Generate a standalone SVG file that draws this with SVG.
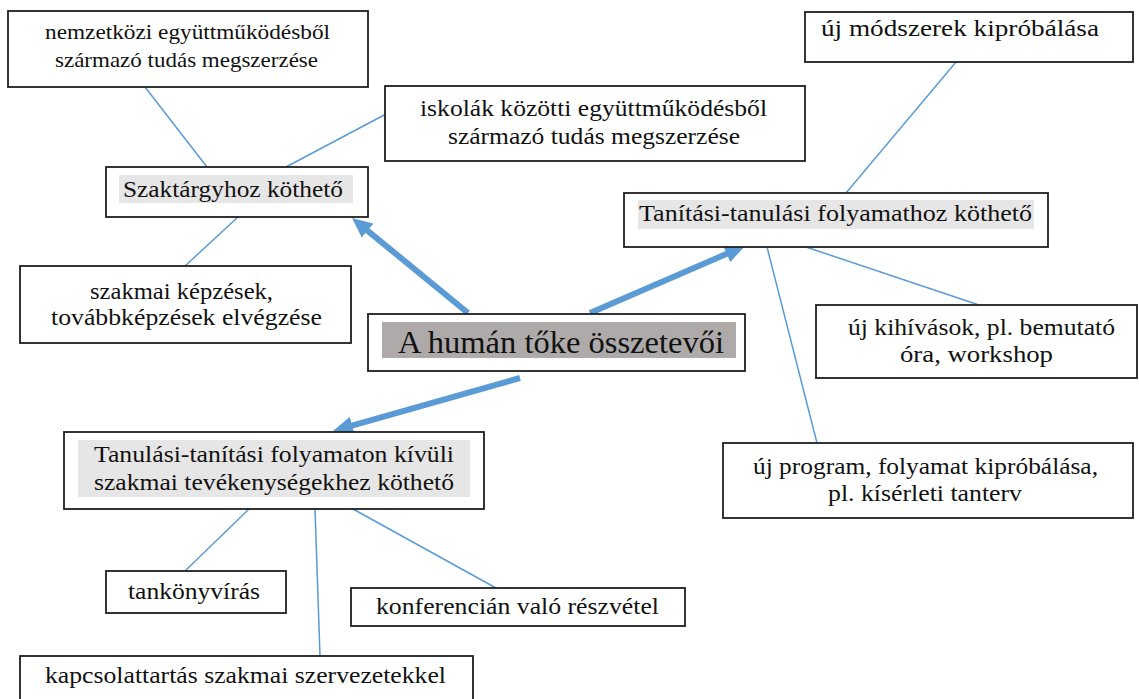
<svg xmlns="http://www.w3.org/2000/svg" width="1139" height="699" viewBox="0 0 1139 699" font-family="Liberation Serif, Times New Roman, serif">
<style>
.box{fill:#ffffff;stroke:#1f1f1f;stroke-width:1.8}
.hl{fill:#E7E6E6}
.hlt{fill:#AEAAAA}
.t{font-family:'Liberation Serif',serif;font-size:23px;fill:#111}
.conn{stroke:#5B9BD5;stroke-width:1.5;fill:none}
.arr{stroke:#5B9BD5;stroke-width:6;fill:none;marker-end:url(#ah)}
</style>
<defs>
<marker id="ah" markerUnits="userSpaceOnUse" markerWidth="20" markerHeight="18" refX="4" refY="9" orient="auto">
<path d="M0,0 L20,9 L0,18 z" fill="#5B9BD5"/>
</marker>
</defs>
<rect width="1139" height="699" fill="#ffffff"/>
<g id="connectors">
<line class="conn" x1="145" y1="87" x2="207" y2="167"/>
<line class="conn" x1="386" y1="114" x2="286" y2="167"/>
<line class="conn" x1="238" y1="217" x2="185" y2="266"/>
<line class="conn" x1="956" y1="62" x2="846" y2="193"/>
<line class="conn" x1="767" y1="247" x2="817" y2="443"/>
<line class="conn" x1="806" y1="247" x2="979" y2="305"/>
<line class="conn" x1="249" y1="509" x2="185" y2="571"/>
<line class="conn" x1="315" y1="509" x2="320" y2="656"/>
<line class="conn" x1="353" y1="509" x2="496" y2="588"/>
<line class="arr" x1="468" y1="313" x2="364.4" y2="228.1"/>
<line class="arr" x1="590" y1="313" x2="730.3" y2="252.3"/>
<line class="arr" x1="520" y1="378" x2="348.4" y2="426.6"/>
</g>
<g id="n-nemzetkozi">
<rect class="box" x="8" y="11" width="360" height="76"/>
<text class="t" font-size="21" style="font-size:21px" x="45" y="39" textLength="285" lengthAdjust="spacingAndGlyphs">nemzetközi együttműködésből</text>
<text class="t" style="font-size:21px" x="55" y="67" textLength="263" lengthAdjust="spacingAndGlyphs">származó tudás megszerzése</text>
</g>
<g id="n-szaktargy">
<rect class="box" x="106" y="167" width="262" height="50"/>
<rect class="hl" x="119" y="175" width="234" height="28"/>
<text class="t" x="123" y="197" textLength="220" lengthAdjust="spacingAndGlyphs">Szaktárgyhoz köthető</text>
</g>
<g id="n-iskolak">
<rect class="box" x="385" y="86" width="420" height="75"/>
<text class="t" x="420" y="116" textLength="347" lengthAdjust="spacingAndGlyphs">iskolák közötti együttműködésből</text>
<text class="t" x="448" y="144" textLength="292" lengthAdjust="spacingAndGlyphs">származó tudás megszerzése</text>
</g>
<g id="n-modszerek">
<rect class="box" x="805" y="12" width="328" height="50"/>
<text class="t" style="font-size:24px" x="821" y="36" textLength="278" lengthAdjust="spacingAndGlyphs">új módszerek kipróbálása</text>
</g>
<g id="n-tanitasi">
<rect class="box" x="624" y="193" width="424" height="54"/>
<rect class="hl" x="638" y="200" width="396" height="29"/>
<text class="t" x="639" y="221" textLength="393" lengthAdjust="spacingAndGlyphs">Tanítási-tanulási folyamathoz köthető</text>
</g>
<g id="n-szakmai">
<rect class="box" x="20" y="266" width="331" height="77"/>
<text class="t" x="90" y="299" textLength="183" lengthAdjust="spacingAndGlyphs">szakmai képzések,</text>
<text class="t" x="51" y="325" textLength="271" lengthAdjust="spacingAndGlyphs">továbbképzések elvégzése</text>
</g>
<g id="n-title">
<rect class="box" x="368" y="314" width="377" height="57"/>
<rect class="hlt" x="382" y="322" width="354" height="36"/>
<text class="t" style="font-size:32px" x="398" y="353" textLength="326" lengthAdjust="spacingAndGlyphs">A humán tőke összetevői</text>
</g>
<g id="n-kihivasok">
<rect class="box" x="816" y="305" width="321" height="73"/>
<text class="t" x="848" y="335" textLength="267" lengthAdjust="spacingAndGlyphs">új kihívások, pl. bemutató</text>
<text class="t" x="900" y="362" textLength="153" lengthAdjust="spacingAndGlyphs">óra, workshop</text>
</g>
<g id="n-program">
<rect class="box" x="723" y="443" width="410" height="75"/>
<text class="t" x="753" y="474" textLength="345" lengthAdjust="spacingAndGlyphs">új program, folyamat kipróbálása,</text>
<text class="t" x="828" y="501" textLength="194" lengthAdjust="spacingAndGlyphs">pl. kísérleti tanterv</text>
</g>
<g id="n-kivuli">
<rect class="box" x="64" y="432" width="420" height="77"/>
<rect class="hl" x="78" y="440" width="392" height="57"/>
<text class="t" x="94" y="462" textLength="360" lengthAdjust="spacingAndGlyphs">Tanulási-tanítási folyamaton kívüli</text>
<text class="t" x="94" y="490" textLength="360" lengthAdjust="spacingAndGlyphs">szakmai tevékenységekhez köthető</text>
</g>
<g id="n-tankonyv">
<rect class="box" x="106" y="571" width="180" height="42"/>
<text class="t" x="128" y="599" textLength="132" lengthAdjust="spacingAndGlyphs">tankönyvírás</text>
</g>
<g id="n-konferencia">
<rect class="box" x="351" y="588" width="334" height="38"/>
<text class="t" x="376" y="614" textLength="283" lengthAdjust="spacingAndGlyphs">konferencián való részvétel</text>
</g>
<g id="n-kapcsolat">
<rect class="box" x="20" y="656" width="453" height="60"/>
<text class="t" x="45" y="683" textLength="401" lengthAdjust="spacingAndGlyphs">kapcsolattartás szakmai szervezetekkel</text>
</g>
</svg>
